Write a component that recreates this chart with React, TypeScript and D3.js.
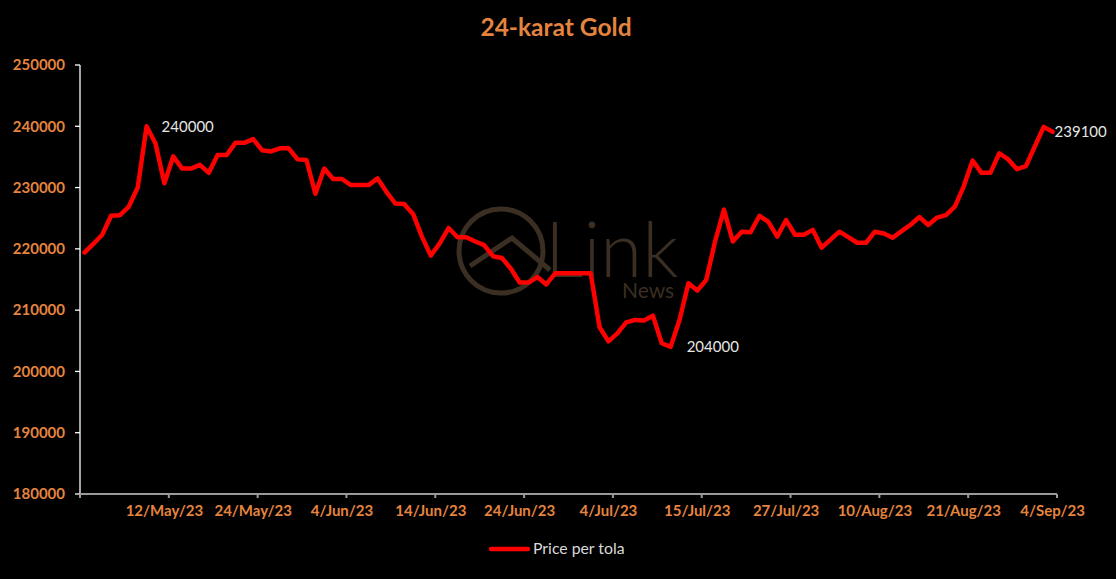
import React from "react";
import * as d3 from "d3";

// ---- data ----
const prices: number[] = [
  219400, 220800, 222300, 225400, 225500, 226900, 230000, 240000, 237200, 230700,
  235100, 233100, 233100, 233700, 232400, 235300, 235300, 237300, 237300, 237900,
  236100, 235900, 236400, 236400, 234600, 234500, 229000, 233100, 231400, 231400,
  230400, 230400, 230400, 231500, 229300, 227400, 227300, 225700, 222000, 218900,
  220900, 223400, 221900, 221900, 221200, 220600, 218800, 218500, 216800, 214500,
  214500, 215400, 214200, 216000, 216000, 216000, 216000, 216000, 207200, 204900,
  206200, 208000, 208400, 208300, 209100, 204600, 204000, 208400, 214400, 213200,
  214900, 221200, 226400, 221200, 222800, 222700, 225400, 224400, 222000, 224700,
  222300, 222300, 223100, 220200, 221500, 222800, 221900, 221000, 221000, 222800,
  222500, 221800, 222900, 223900, 225200, 223900, 225100, 225500, 226900, 230200,
  234400, 232400, 232400, 235600, 234600, 233000, 233500, 236700, 239900, 239100,
];
const tickLabels: string[] = [
  "12/May/23", "24/May/23", "4/Jun/23", "14/Jun/23", "24/Jun/23", "4/Jul/23",
  "15/Jul/23", "27/Jul/23", "10/Aug/23", "21/Aug/23", "4/Sep/23",
];
const labelCategories: number[] = [9, 19, 29, 39, 49, 59, 69, 79, 89, 99, 109];
const yTicks: number[] = [180000, 190000, 200000, 210000, 220000, 230000, 240000, 250000];
const annotations: { idx: number; text: string; dx: number; dy: number }[] = [
  { idx: 7, text: "240000", dx: 15, dy: 0 },
  { idx: 66, text: "204000", dx: 16, dy: 0 },
  { idx: 109, text: "239100", dx: 2, dy: 0 },
];

const W = 1116;
const H = 579;
const ORANGE = "#E5843F";
const WM = "#3a2f22";
const FONT = "Lato, 'Open Sans', sans-serif";

export default function App() {
  const x = d3
    .scaleBand<number>()
    .domain(d3.range(prices.length))
    .range([80, 1057])
    .paddingInner(0)
    .paddingOuter(0);
  const y = d3.scaleLinear().domain([180000, 250000]).range([494, 65]);
  const cx = (i: number) => (x(i) as number) + x.bandwidth() / 2;

  const line = d3
    .line<number>()
    .x((_, i) => cx(i))
    .y((d) => y(d));

  const xTickPos = d3.range(0, prices.length + 1, 10).map((k) =>
    k < prices.length ? (x(k) as number) : 1057
  );

  return (
    <svg
      width={W}
      height={H}
      style={{ position: "absolute", left: 0, top: 0, background: "#000" }}
    >
      <rect x={0} y={0} width={W} height={H} fill="#000" />
      {/* watermark */}
      <g>
        <circle cx={501} cy={251} r={42} fill="none" stroke={WM} strokeWidth={5} />
        <polyline
          points="470,266 512,238 550,270"
          fill="none"
          stroke={WM}
          strokeWidth={5}
        />
        <text x={545} y={277} fontFamily={FONT} fontSize={76} fill={WM} fontWeight={300}>
          Link
        </text>
        <text x={622} y={298} fontFamily={FONT} fontSize={21} fill={WM}>
          News
        </text>
      </g>

      {/* title */}
      <text
        x={556}
        y={36}
        textAnchor="middle"
        fontFamily={FONT}
        fontWeight={700}
        fontSize={24.5}
        fill={ORANGE}
      >
        24-karat Gold
      </text>

      {/* y axis */}
      <line x1={80} x2={80} y1={65} y2={494} stroke="#fff" strokeWidth={1.3} />
      {yTicks.map((t) => (
        <g key={t}>
          <line x1={75} x2={80} y1={y(t)} y2={y(t)} stroke="#fff" strokeWidth={1.3} />
          <text
            x={65}
            y={y(t)}
            dy="0.35em"
            textAnchor="end"
            fontFamily={FONT}
            fontWeight={700}
            fontSize={15}
            fill={ORANGE}
          >
            {t}
          </text>
        </g>
      ))}

      {/* x axis */}
      <line x1={80} x2={1057} y1={494} y2={494} stroke="#9a9a9a" strokeWidth={2} />
      {xTickPos.map((p, k) => (
        <line key={k} x1={p} x2={p} y1={494} y2={498} stroke="#9a9a9a" strokeWidth={2} />
      ))}
      {labelCategories.map((c, k) => (
        <text
          key={c}
          x={cx(c)}
          y={516}
          textAnchor="middle"
          fontFamily={FONT}
          fontWeight={700}
          fontSize={15}
          fill={ORANGE}
        >
          {tickLabels[k]}
        </text>
      ))}

      {/* price line */}
      <path
        d={line(prices) as string}
        fill="none"
        stroke="#FF0000"
        strokeWidth={4.5}
        strokeLinejoin="round"
        strokeLinecap="round"
      />

      {/* data labels */}
      {annotations.map((a) => (
        <text
          key={a.idx}
          x={cx(a.idx) + a.dx}
          y={y(prices[a.idx]) + a.dy}
          dy="0.35em"
          fontFamily={FONT}
          fontSize={15}
          fill="#e6e6e6"
        >
          {a.text}
        </text>
      ))}

      {/* legend */}
      <line x1={491} x2={528} y1={549} y2={549} stroke="#FF0000" strokeWidth={4.5} strokeLinecap="round" />
      <text x={533} y={554} fontFamily={FONT} fontSize={15.8} fill="#d9d9d9">
        Price per tola
      </text>
    </svg>
  );
}
